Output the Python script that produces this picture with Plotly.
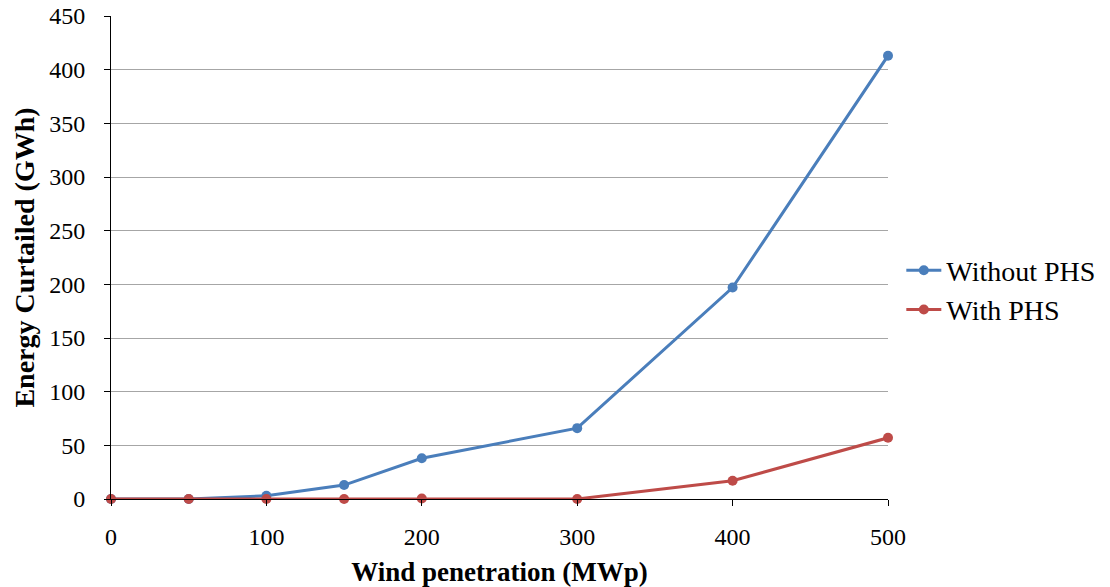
import plotly.graph_objects as go

wind = [0, 50, 100, 150, 200, 300, 400, 500]
without_phs = [0, 0, 3, 13, 38, 66, 197, 413]
with_phs = [0, 0, 0, 0, 0.5, 0, 17, 57]

font = "Liberation Serif"
fig = go.Figure()
fig.add_trace(go.Scatter(x=wind, y=without_phs, name="Without PHS", mode="lines+markers",
                         line=dict(color="#4A7EBB", width=3), marker=dict(size=10, color="#4A7EBB")))
fig.add_trace(go.Scatter(x=wind, y=with_phs, name="With PHS", mode="lines+markers",
                         line=dict(color="#BE4B48", width=3), marker=dict(size=10, color="#BE4B48")))

fig.update_layout(
    width=1110, height=587,
    margin=dict(l=111, r=222, t=16, b=88),
    paper_bgcolor="white", plot_bgcolor="white",
    font=dict(family=font, size=24, color="black"),
    legend=dict(xref="container", yref="container", x=0.812, y=0.506,
                yanchor="middle", xanchor="left", font=dict(size=28), itemwidth=35),
    xaxis=dict(range=[0, 500], tickvals=[0, 100, 200, 300, 400, 500], showgrid=False,
               showline=True, linecolor="black", linewidth=1, ticks="outside", ticklen=6,
               tickcolor="black", zeroline=False, ticklabelstandoff=10, automargin=False,
               title=dict(text="<b>Wind penetration (MWp)</b>", font=dict(size=27), standoff=16)),
    yaxis=dict(range=[0, 450], dtick=50, showgrid=True, gridcolor="#A6A6A6", gridwidth=1,
               showline=True, linecolor="black", linewidth=1, ticks="outside", ticklen=6,
               tickcolor="black", zeroline=False, ticklabelstandoff=14, automargin=False,
               title=dict(text="<b>Energy Curtailed (GWh)</b>", font=dict(size=28), standoff=6)),
)
fig.update_traces(cliponaxis=False)
fig.write_html("out.html")
